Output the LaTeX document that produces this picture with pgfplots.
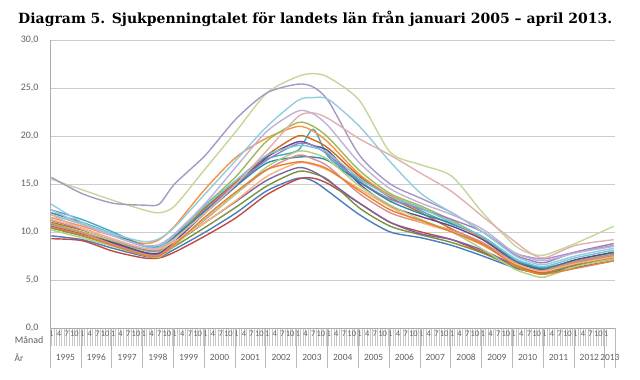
\documentclass[border=0pt]{standalone}
\usepackage{fontspec}
\setmainfont{Carlito}
\newfontfamily\titlefont{DejaVu Serif}
\usepackage{graphicx}
\usepackage{pgfplots}
\usepackage{pgfplotstable}
\pgfplotsset{compat=1.18}

\definecolor{cbl}{HTML}{4A7EBB}
\definecolor{crd}{HTML}{BE4B48}
\definecolor{cgr}{HTML}{77933C}
\definecolor{cpu}{HTML}{8064A2}
\definecolor{ctq}{HTML}{46AAC5}
\definecolor{cor}{HTML}{F69240}
\definecolor{cbr}{HTML}{CC6A1E}
\definecolor{cgn}{HTML}{9BBB59}
\definecolor{cdp}{HTML}{5F4B8B}
\definecolor{cpp}{HTML}{9A7FBF}
\definecolor{cdt}{HTML}{2F8BA5}
\definecolor{cpk}{HTML}{D9908D}
\definecolor{clo}{HTML}{F9B27A}
\definecolor{clg}{HTML}{B3CF85}
\definecolor{co2}{HTML}{E8822F}
\definecolor{caq}{HTML}{7CC3D6}
\definecolor{cA}{HTML}{C3D69B}
\definecolor{cB}{HTML}{A897C5}
\definecolor{cC}{HTML}{93CDDD}
\definecolor{cD}{HTML}{E2B0AF}
\definecolor{cE}{HTML}{BFB2D6}

\pgfplotstableread{
m   bl   rd   gr   pu   tq   or   br   gn   dp   pp   dt   pk   lo   lg   o2   aq   A    B    C    D    E
1   9.6  9.3  10.4 10.8 12.3 11.5 11.0 10.9 10.6 11.2 12.0 10.7 11.3 10.2 10.5 11.8 15.5 15.7 12.9 11.8 12.3
13  9.2  9.1  9.6  9.9  11.3 10.6 10.2 10.0 9.8  10.3 11.0 9.9  10.4 9.4  9.7  10.8 14.4 14.0 11.0 10.3 10.8
25  8.3  8.0  8.6  8.8  10.0 9.6  9.2  9.0  8.9  9.2  9.8  8.7  9.3  8.5  8.6  9.6  13.3 13.0 9.8  9.2  9.6
37  7.5  7.3  7.6  7.8  8.6  8.8  8.2  8.1  7.9  8.2  8.6  7.7  8.3  7.6  7.6  8.5  12.3 12.8 9.0  8.3  8.6
43  7.4  7.3  7.5  7.7  8.5  9.2  8.1  8.0  7.8  8.1  8.4  7.6  8.2  7.4  7.5  8.4  12.0 12.9 9.3  8.3  8.7
49  8.2  7.9  8.5  8.8  9.6  10.6 9.5  9.3  9.0  9.4  9.5  8.8  9.0  8.6  8.7  9.7  12.7 15.0 10.5 9.3  9.8
61  10.0 9.6  10.5 11.0 12.6 14.5 12.5 12.8 12.0 12.3 12.2 11.3 11.0 11.4 11.6 12.8 16.6 18.0 14.0 12.0 13.0
73  12.0 11.5 12.6 13.2 15.2 17.8 15.2 15.8 14.8 15.0 14.8 14.0 13.3 14.0 14.2 15.4 20.5 21.8 17.5 15.0 16.8
85  14.3 13.9 14.8 15.4 17.6 19.8 18.0 19.5 17.8 17.5 17.2 16.5 15.8 16.8 16.5 18.0 24.5 24.5 21.0 18.5 20.5
97  15.6 15.5 16.3 16.7 18.5 21.0 20.0 21.4 19.4 19.2 17.8 18.0 17.2 18.4 17.3 19.0 26.2 25.4 23.7 22.0 22.6
103 15.3 15.6 16.1 16.3 20.7 20.5 19.6 21.0 19.0 19.0 17.8 17.6 17.0 18.2 17.1 18.8 26.5 25.1 24.0 22.4 22.3
109 14.2 15.0 15.4 15.3 17.8 19.3 18.7 19.8 18.4 18.0 17.4 16.8 16.4 17.5 16.5 18.2 26.1 23.6 23.8 21.8 21.0
121 11.8 13.0 12.5 13.0 15.5 16.0 15.8 16.4 15.0 15.3 15.2 14.0 14.5 14.8 14.3 15.6 23.7 18.0 21.0 19.7 17.2
133 10.0 11.0 10.6 11.0 13.8 13.8 13.6 14.0 12.7 13.4 13.2 12.0 12.6 12.8 12.3 13.7 18.3 15.0 17.3 18.0 14.5
145 9.4  10.0 9.7  9.8  12.2 12.5 12.0 12.7 11.6 12.4 11.9 11.0 11.0 11.3 11.2 12.5 17.0 13.5 14.0 16.1 13.0
157 8.6  9.2  8.9  9.2  10.8 11.0 10.3 11.2 10.6 11.3 10.9 10.2 10.0 10.0 10.0 11.0 15.8 12.0 12.0 14.2 11.8
169 7.5  7.9  7.8  8.1  9.5  9.3  8.8  9.4  9.2  10.0 9.5  8.9  8.6  8.2  8.7  9.5  12.0 10.0 10.0 11.6 10.3
181 6.3  6.6  6.4  6.6  7.3  7.1  6.7  7.1  7.0  7.7  7.1  6.9  6.8  6.2  6.6  7.3  8.7  7.9  7.6  9.1  7.9
187 5.9  6.1  5.9  6.1  6.6  6.4  6.0  6.4  6.4  7.1  6.5  6.2  6.2  5.6  5.9  6.7  7.8  7.4  6.9  7.9  7.3
193 5.7  5.9  5.6  5.9  6.3  6.1  5.8  6.2  6.1  6.8  6.2  6.0  5.9  5.3  5.6  6.4  7.6  7.2  6.6  7.3  7.0
205 6.3  6.5  6.6  6.9  7.0  6.8  6.7  7.0  7.1  7.9  6.9  6.9  6.7  6.4  6.2  7.3  8.8  7.9  7.5  8.6  7.8
220 7.0  7.2  7.4  7.8  7.8  7.5  7.3  7.7  7.9  8.8  7.6  7.6  7.4  7.2  7.0  8.1  10.6 8.6  8.3  9.2  8.5
}\data

\begin{document}
\begin{tikzpicture}
\path[use as bounding box] (0,0) rectangle (640bp,380bp);
\node[anchor=west, inner sep=0pt] at (18bp,361bp) {\resizebox{594bp}{!}{\titlefont\bfseries Diagram 5. Sjukpenningtalet för landets län från januari 2005 – april 2013.}};
\begin{axis}[
  at={(50bp,52bp)}, anchor=south west,
  width=565bp, height=288bp, scale only axis,
  xmin=0.5, xmax=220.5, ymin=0, ymax=30,
  axis x line*=bottom, axis y line*=left,
  axis line style={gray!65, line width=0.8bp},
  ytick={0,5,...,30},
  ymajorgrids, grid style={gray!40, line width=0.8bp},
  ytick style={draw=none},
  yticklabel style={/pgf/number format/.cd, fixed, fixed zerofill, precision=1, use comma, assume math mode=true, /tikz/.cd, font=\fontsize{10}{11}\selectfont, text=gray!75!black, xshift=10bp},
  tick align=outside,
  major tick length=18bp, minor tick length=18bp,
  xtick={1,4,...,217},
  minor x tick num=2,
  xtick style={gray!45, line width=0.4bp},
  minor x tick style={gray!45, line width=0.4bp},
  xticklabel={\pgfmathtruncatemacro\mm{mod(round(\tick)-1,12)+1}\mm},
  xticklabel style={font=\fontsize{8.5}{9}\selectfont, text=gray!80!black, yshift=15.5bp, inner sep=0pt},
  extra x ticks={0.5,12.5,...,216.5,220.5},
  extra x tick labels={},
  extra x tick style={major tick length=40bp, xtick style={gray!55, line width=0.5bp}},
  every axis plot/.append style={line width=1.4bp, smooth, tension=0.45, mark=none},
  clip=false,
]
\addplot[cbl] table[x=m,y=bl]{\data};
\addplot[crd] table[x=m,y=rd]{\data};
\addplot[cgr] table[x=m,y=gr]{\data};
\addplot[cpu] table[x=m,y=pu]{\data};
\addplot[ctq] table[x=m,y=tq]{\data};
\addplot[cor] table[x=m,y=or]{\data};
\addplot[cbr] table[x=m,y=br]{\data};
\addplot[cgn] table[x=m,y=gn]{\data};
\addplot[cdp] table[x=m,y=dp]{\data};
\addplot[cpp] table[x=m,y=pp]{\data};
\addplot[cdt] table[x=m,y=dt]{\data};
\addplot[cpk] table[x=m,y=pk]{\data};
\addplot[clo] table[x=m,y=lo]{\data};
\addplot[clg] table[x=m,y=lg]{\data};
\addplot[co2] table[x=m,y=o2]{\data};
\addplot[caq] table[x=m,y=aq]{\data};
\addplot[cA] table[x=m,y=A]{\data};
\addplot[cB] table[x=m,y=B]{\data};
\addplot[cC] table[x=m,y=C]{\data};
\addplot[cD] table[x=m,y=D]{\data};
\addplot[cE] table[x=m,y=E]{\data};

\begin{scope}[every node/.style={font=\fontsize{9.5}{10}\selectfont, text=gray!75!black, yshift=-29bp}]
\node at (axis cs:6.5,0) {1995};
\node at (axis cs:18.5,0) {1996};
\node at (axis cs:30.5,0) {1997};
\node at (axis cs:42.5,0) {1998};
\node at (axis cs:54.5,0) {1999};
\node at (axis cs:66.5,0) {2000};
\node at (axis cs:78.5,0) {2001};
\node at (axis cs:90.5,0) {2002};
\node at (axis cs:102.5,0) {2003};
\node at (axis cs:114.5,0) {2004};
\node at (axis cs:126.5,0) {2005};
\node at (axis cs:138.5,0) {2006};
\node at (axis cs:150.5,0) {2007};
\node at (axis cs:162.5,0) {2008};
\node at (axis cs:174.5,0) {2009};
\node at (axis cs:186.5,0) {2010};
\node at (axis cs:198.5,0) {2011};
\node at (axis cs:210.5,0) {2012};
\node at (axis cs:218.5,0) {2013};
\node[anchor=east, xshift=-23bp] at (axis cs:0.5,0) {År};
\end{scope}
\node[anchor=east, xshift=-3bp, yshift=-12bp, font=\fontsize{10}{11}\selectfont, text=gray!75!black] at (axis cs:0.5,0) {Månad};
\end{axis}
\end{tikzpicture}
\end{document}
